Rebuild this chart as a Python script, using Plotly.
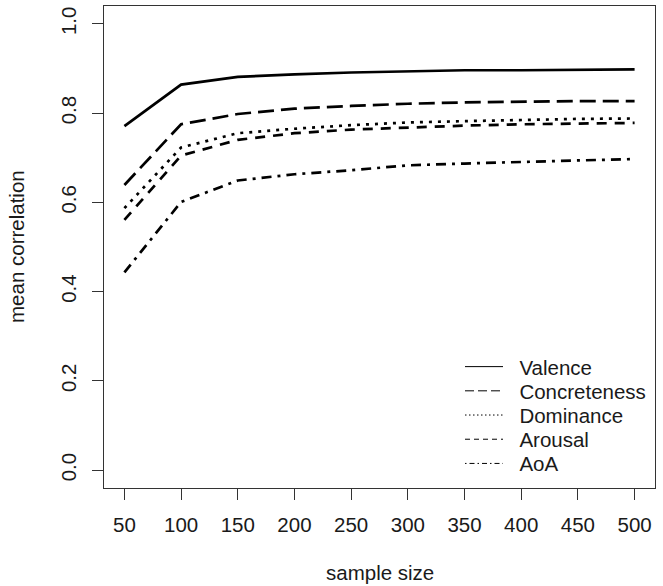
import plotly.graph_objects as go

sample_size = [50, 100, 150, 200, 250, 300, 350, 400, 450, 500]

valence = [0.771, 0.864, 0.881, 0.887, 0.891, 0.893, 0.896, 0.896, 0.897, 0.898]
concreteness = [0.639, 0.775, 0.798, 0.810, 0.816, 0.821, 0.824, 0.826, 0.827, 0.827]
dominance = [0.587, 0.723, 0.755, 0.765, 0.773, 0.779, 0.782, 0.785, 0.787, 0.788]
arousal = [0.561, 0.705, 0.740, 0.755, 0.763, 0.768, 0.772, 0.775, 0.776, 0.778]
aoa = [0.443, 0.601, 0.649, 0.663, 0.672, 0.683, 0.687, 0.691, 0.694, 0.697]

series_names = ["Valence", "Concreteness", "Dominance", "Arousal", "AoA"]
series_values = [valence, concreteness, dominance, arousal, aoa]

x_ticks = [50, 100, 150, 200, 250, 300, 350, 400, 450, 500]
y_ticks = [0.0, 0.2, 0.4, 0.6, 0.8, 1.0]
y_ticktext = ["0.0", "0.2", "0.4", "0.6", "0.8", "1.0"]

main_dash = ["solid", "16px,7px", "3px,6px", "10px,8px", "10px,6px,3px,6px"]
legend_dash = ["solid", "9px,4px", "1.5px,2.5px", "5px,4px", "1.5px,3px,5px,3px"]

FONT = "Liberation Sans, Arial, sans-serif"
FS = 20.5
TXT = "#1a1a1a"
AX = "#333333"

W, H = 663, 586
ML, MR, MT, MB = 104, 8, 6, 98
PW, PH = W - ML - MR, H - MT - MB

legend_ids = ["legend", "legend2", "legend3", "legend4", "legend5"]
legend_row_px = [366.8, 391.0, 415.2, 439.4, 463.6]
legend_left_px = 460

fig = go.Figure()
for name, vals, dash in zip(series_names, series_values, main_dash):
    fig.add_trace(go.Scatter(
        x=sample_size, y=vals, mode="lines", name=name, showlegend=False,
        line=dict(color="black", width=2.7, dash=dash),
    ))
for name, dash, lid in zip(series_names, legend_dash, legend_ids):
    fig.add_trace(go.Scatter(
        x=[None], y=[None], mode="lines", name="\u00a0\u00a0" + name,
        showlegend=True, legend=lid,
        line=dict(color="black", width=1, dash=dash),
    ))

legend_layout = {}
for lid, py in zip(legend_ids, legend_row_px):
    legend_layout[lid] = dict(
        x=(legend_left_px - ML) / PW, y=(H - MB - py) / PH,
        xanchor="left", yanchor="middle",
        bgcolor="rgba(0,0,0,0)", borderwidth=0,
        font=dict(family=FONT, size=FS, color=TXT),
        itemwidth=38,
    )

fig.update_layout(
    width=W, height=H,
    margin=dict(l=ML, r=MR, t=MT, b=MB),
    paper_bgcolor="white", plot_bgcolor="white",
    font=dict(family=FONT, size=FS, color=TXT),
    showlegend=True,
    xaxis=dict(
        range=[32, 518], tickvals=x_ticks, ticktext=[str(v) for v in x_ticks],
        showgrid=False, zeroline=False,
        showline=True, mirror=True, linecolor=AX, linewidth=1.3,
        ticks="outside", ticklen=11, tickwidth=1.3, tickcolor=AX,
        ticklabelstandoff=7,
        tickfont=dict(family=FONT, size=FS, color=TXT),
    ),
    yaxis=dict(
        range=[-0.04, 1.04], tickvals=y_ticks, ticktext=y_ticktext,
        showgrid=False, zeroline=False,
        showline=True, mirror=True, linecolor=AX, linewidth=1.3,
        ticks="outside", ticklen=11, tickwidth=1.3, tickcolor=AX,
        tickangle=-90, ticklabelstandoff=8,
        tickfont=dict(family=FONT, size=FS, color=TXT),
    ),
    annotations=[
        dict(text="sample size", xref="paper", yref="paper",
             x=0.5, y=(H - MB - 572) / PH, xanchor="center", yanchor="middle",
             showarrow=False, font=dict(family=FONT, size=FS, color=TXT)),
        dict(text="mean correlation", xref="paper", yref="paper",
             x=(16 - ML) / PW, y=0.5, xanchor="center", yanchor="middle",
             textangle=-90, showarrow=False,
             font=dict(family=FONT, size=FS, color=TXT)),
    ],
    **legend_layout,
)

fig.write_html(
    "out.html",
    config={"displayModeBar": False},
    post_script="document.body.style.margin='0';document.body.style.padding='0';",
)
